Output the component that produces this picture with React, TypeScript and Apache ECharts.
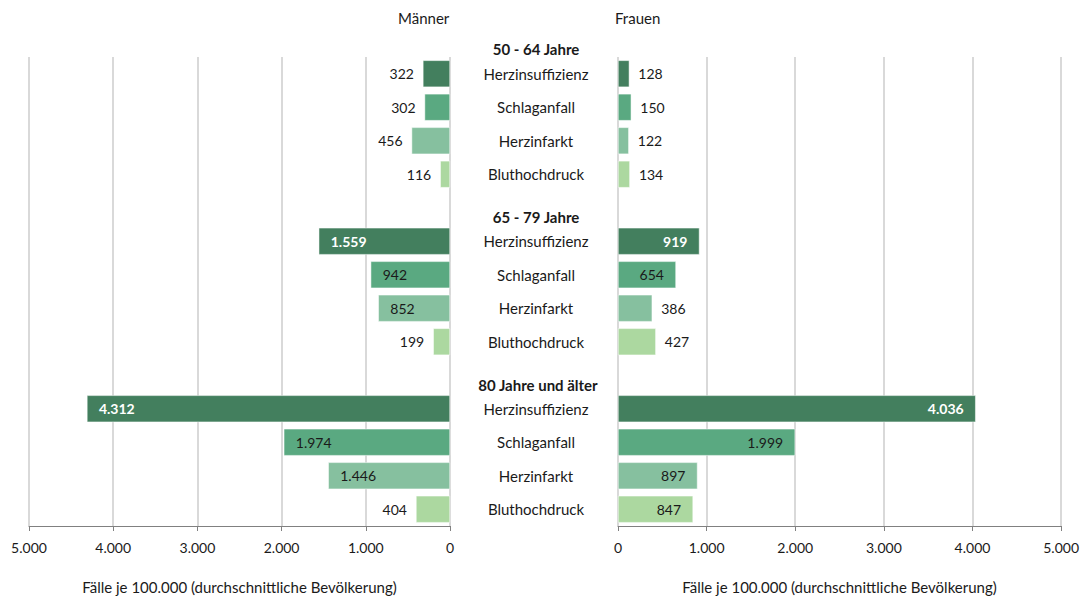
import React, { useEffect, useRef } from "react";
import * as echarts from "echarts";

const diseases = ["Herzinsuffizienz", "Schlaganfall", "Herzinfarkt", "Bluthochdruck"];
const ageGroups = ["50 - 64 Jahre", "65 - 79 Jahre", "80 Jahre und älter"];
const diseaseColors = ["#437f5e", "#5aa981", "#86c09f", "#acd8a0"];

const maenner50 = [322, 302, 456, 116];
const maenner65 = [1559, 942, 852, 199];
const maenner80 = [4312, 1974, 1446, 404];
const frauen50 = [128, 150, 122, 134];
const frauen65 = [919, 654, 386, 427];
const frauen80 = [4036, 1999, 897, 847];

const xTicks = [0, 1000, 2000, 3000, 4000, 5000];
const axisTitle = "Fälle je 100.000 (durchschnittliche Bevölkerung)";

const FONT = "Lato";
const TXT = "#1a1a1a";

function fmt(v: number): string {
  return String(Math.round(v)).replace(/\B(?=(\d{3})+(?!\d))/g, ".");
}

// 14 slots: 4 bars, gap, 4 bars, gap, 4 bars
function buildSlots() {
  const cats: string[] = [];
  const groups = [maenner50, maenner65, maenner80];
  groups.forEach((_, gi) => {
    if (gi > 0) cats.push("gap" + gi);
    diseases.forEach((d) => cats.push(d + "|" + gi));
  });
  return cats;
}

function buildData(groups: number[][], side: "left" | "right") {
  const out: any[] = [];
  groups.forEach((vals, gi) => {
    if (gi > 0) out.push("-");
    vals.forEach((v, di) => {
      const inside = v >= 500;
      const strong = di === 0 && inside;
      out.push({
        value: v,
        itemStyle: { color: diseaseColors[di] },
        label: {
          show: true,
          position: inside ? (side === "left" ? "insideLeft" : "insideRight") : side,
          distance: inside ? 12 : 9,
          color: strong ? "#ffffff" : TXT,
          fontWeight: strong ? "bold" : "normal",
          fontFamily: FONT,
          fontSize: 14,
          formatter: () => fmt(v),
        },
      });
    });
  });
  return out;
}

export default function App() {
  const ref = useRef<HTMLDivElement>(null);
  useEffect(() => {
    if (!ref.current) return;
    const chart = echarts.init(ref.current, undefined, { renderer: "svg" });
    const cats = buildSlots();
    const xAxisCommon = {
      type: "value" as const,
      min: xTicks[0],
      max: xTicks[xTicks.length - 1],
      interval: 1000,
      name: axisTitle,
      nameLocation: "middle" as const,
      nameGap: 53,
      nameTextStyle: { color: TXT, fontFamily: FONT, fontSize: 15 },
      axisLine: { show: true, lineStyle: { color: "#808080", width: 1 } },
      axisTick: { show: true, length: 5, lineStyle: { color: "#808080" } },
      axisLabel: { color: TXT, fontFamily: FONT, fontSize: 14, margin: 14, formatter: (v: number) => fmt(v) },
      splitLine: { show: true, lineStyle: { color: "#d9d9d9", width: 2 } },
    };
    const option: any = {
      animation: false,
      backgroundColor: "#ffffff",
      textStyle: { fontFamily: FONT },
      grid: [
        { left: 29, right: 632, top: 57, bottom: 70 },
        { left: 618, right: 20, top: 57, bottom: 70 },
      ],
      xAxis: [
        { ...xAxisCommon, gridIndex: 0, inverse: true },
        { ...xAxisCommon, gridIndex: 1 },
      ],
      yAxis: [
        {
          type: "category",
          gridIndex: 0,
          data: cats,
          inverse: true,
          axisLine: { show: false },
          axisTick: { show: false },
          axisLabel: { show: false },
        },
        {
          type: "category",
          gridIndex: 1,
          data: cats,
          inverse: true,
          position: "left",
          axisLine: { show: false },
          axisTick: { show: false },
          axisLabel: {
            show: true,
            align: "center",
            margin: 82,
            color: TXT,
            fontFamily: FONT,
            fontSize: 15,
            formatter: (v: string) => (v.startsWith("gap") ? "" : v.split("|")[0]),
          },
        },
      ],
      graphic: [
        { type: "text", left: 398, top: 10, style: { text: "Männer", fill: TXT, font: `15px ${FONT}` } },
        { type: "text", left: 615, top: 10, style: { text: "Frauen", fill: TXT, font: `15px ${FONT}` } },
        { type: "text", x: 536, y: 49, style: { text: ageGroups[0], fill: TXT, font: `bold 15px ${FONT}`, align: "center", verticalAlign: "middle" } },
        { type: "text", x: 536, y: 217, style: { text: ageGroups[1], fill: TXT, font: `bold 15px ${FONT}`, align: "center", verticalAlign: "middle" } },
        { type: "text", x: 538, y: 385, style: { text: ageGroups[2], fill: TXT, font: `bold 15px ${FONT}`, align: "center", verticalAlign: "middle" } },
      ],
      series: [
        {
          type: "bar",
          name: "Männer",
          xAxisIndex: 0,
          yAxisIndex: 0,
          barWidth: "80%",
          itemStyle: { borderColor: "#ffffff", borderWidth: 0.5 },
          data: buildData([maenner50, maenner65, maenner80], "left"),
        },
        {
          type: "bar",
          name: "Frauen",
          xAxisIndex: 1,
          yAxisIndex: 1,
          barWidth: "80%",
          itemStyle: { borderColor: "#ffffff", borderWidth: 0.5 },
          data: buildData([frauen50, frauen65, frauen80], "right"),
        },
      ],
    };
    chart.setOption(option);
    return () => chart.dispose();
  }, []);
  return <div ref={ref} style={{ position: "fixed", left: 0, top: 0, width: 1082, height: 599 }} />;
}
